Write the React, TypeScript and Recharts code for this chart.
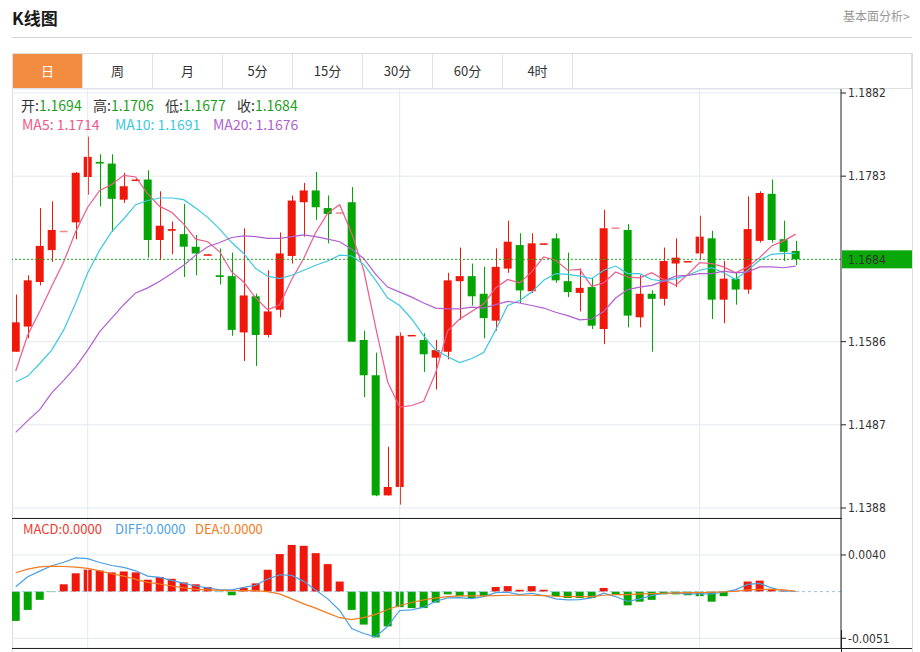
import {
  ComposedChart,
  Bar,
  Line,
  XAxis,
  YAxis,
  CartesianGrid,
  ReferenceLine,
  Cell,
} from 'recharts';

const RED = '#f0180a';
const GREEN = '#03a503';
const FLAT = '#f58a8a';
const GRID = '#e3e9f0';

const tabs = ['日', '周', '月', '5分', '15分', '30分', '60分', '4时'];

// daily candles
const open = [
  1.1574, 1.1604, 1.1657, 1.1695, 1.1718, 1.1728, 1.1782, 1.18, 1.1798, 1.1755,
  1.1778, 1.1779, 1.1707, 1.1718, 1.1714, 1.1699, 1.1689, 1.1665, 1.1664, 1.1597,
  1.164, 1.1594, 1.1624, 1.1688, 1.1752, 1.1766, 1.1745, 1.174, 1.1752, 1.1588,
  1.1546, 1.1403, 1.1413, 1.1593, 1.1588, 1.1567, 1.1574, 1.1658, 1.1664, 1.1643,
  1.1611, 1.1673, 1.1701, 1.1646, 1.1702, 1.1709, 1.1658, 1.1644, 1.1651, 1.1601,
  1.1722, 1.1719, 1.1615, 1.1643, 1.1637, 1.1679, 1.1681, 1.1691, 1.1709, 1.1636,
  1.1661, 1.1648, 1.1706, 1.1762, 1.1708, 1.1694,
];
const high = [
  1.1642, 1.1665, 1.1745, 1.1753, 1.1718, 1.1788, 1.183, 1.1809, 1.1809, 1.1787,
  1.178, 1.179, 1.1765, 1.1729, 1.175, 1.1713, 1.169, 1.1697, 1.1692, 1.1721,
  1.1643, 1.1671, 1.1716, 1.176, 1.1775, 1.1788, 1.176, 1.174, 1.177, 1.1599,
  1.1573, 1.1461, 1.1597, 1.1594, 1.1596, 1.1588, 1.1668, 1.1698, 1.1679, 1.1675,
  1.1697, 1.173, 1.1715, 1.1715, 1.1703, 1.1715, 1.1692, 1.1673, 1.1662, 1.1743,
  1.1722, 1.1726, 1.1665, 1.1647, 1.1698, 1.1709, 1.1682, 1.1736, 1.1718, 1.1682,
  1.1668, 1.1759, 1.1765, 1.1779, 1.173, 1.1706,
];
const low = [
  1.1574, 1.159, 1.1653, 1.1681, 1.1717, 1.1708, 1.1761, 1.1747, 1.1717, 1.1751,
  1.1777, 1.1686, 1.1683, 1.169, 1.1663, 1.1665, 1.1689, 1.1654, 1.1593, 1.1563,
  1.1557, 1.1591, 1.1615, 1.1679, 1.1711, 1.1731, 1.1703, 1.1739, 1.1586, 1.152,
  1.1402, 1.1403, 1.1392, 1.1593, 1.155, 1.1529, 1.1565, 1.1612, 1.1629, 1.159,
  1.1599, 1.1668, 1.1632, 1.1644, 1.1702, 1.1656, 1.1639, 1.1622, 1.1601, 1.1583,
  1.1721, 1.1603, 1.1603, 1.1574, 1.1629, 1.1651, 1.1681, 1.1683, 1.1613, 1.1608,
  1.163, 1.1643, 1.1704, 1.1704, 1.1682, 1.1677,
];
const close = [
  1.1609, 1.1659, 1.17, 1.1719, 1.1718, 1.1787, 1.1806, 1.1798, 1.1756, 1.1771,
  1.1779, 1.1707, 1.1724, 1.172, 1.1699, 1.1691, 1.169, 1.1663, 1.16, 1.1641,
  1.1594, 1.1622, 1.1691, 1.1754, 1.1766, 1.1746, 1.1738, 1.174, 1.1586, 1.1546,
  1.1403, 1.1413, 1.1593, 1.1594, 1.1571, 1.1576, 1.1659, 1.1664, 1.164, 1.1614,
  1.1675, 1.1705, 1.1647, 1.1703, 1.1703, 1.1659, 1.1645, 1.165, 1.1605, 1.1721,
  1.1722, 1.1617, 1.1643, 1.1637, 1.1682, 1.1686, 1.1682, 1.1711, 1.1636, 1.1661,
  1.1648, 1.172, 1.1763, 1.1707, 1.1693, 1.1684,
];

const ma5 = [
  1.1551, 1.1594, 1.1622, 1.1652, 1.1681, 1.1717, 1.1746, 1.1766, 1.1773, 1.1784,
  1.1782, 1.1762, 1.1747, 1.174, 1.1726, 1.1708, 1.1705, 1.1693, 1.1669, 1.1657,
  1.1638, 1.1624, 1.163, 1.166, 1.1685, 1.1716, 1.1739, 1.1749, 1.1715, 1.1671,
  1.1603, 1.1538, 1.1508, 1.151, 1.1515, 1.1549, 1.1599, 1.1613, 1.1622, 1.1631,
  1.165, 1.166, 1.1656, 1.1669, 1.1687, 1.1683, 1.1671, 1.1672, 1.1652, 1.1656,
  1.1669, 1.1663, 1.1662, 1.1668, 1.166, 1.1653, 1.1666, 1.168, 1.1679, 1.1675,
  1.1668, 1.1675, 1.1686, 1.17, 1.1706, 1.1714,
];
const ma10 = [
  1.1538, 1.1545, 1.156, 1.1576, 1.16, 1.1632, 1.1668, 1.1695, 1.1717, 1.1732,
  1.1749, 1.1754, 1.1757, 1.1757, 1.1755, 1.1745, 1.1734, 1.172, 1.1704, 1.1691,
  1.1673, 1.1664, 1.1661, 1.1665, 1.1671, 1.1677, 1.1682, 1.1689, 1.1688, 1.1678,
  1.1659, 1.1638, 1.1629, 1.1613, 1.1593, 1.1576, 1.1568, 1.1561, 1.1566, 1.1573,
  1.16, 1.1629, 1.1635, 1.1645, 1.1659, 1.1667, 1.1666, 1.1664, 1.1661, 1.1671,
  1.1676, 1.1667, 1.1667, 1.166, 1.1658, 1.1661, 1.1665, 1.1671, 1.1674, 1.1668,
  1.166, 1.1671, 1.1683, 1.169, 1.1691, 1.1691,
];
const ma20 = [
  1.1478, 1.1492, 1.1505, 1.1525, 1.154, 1.1556, 1.1576, 1.1598, 1.1614, 1.163,
  1.1644, 1.165, 1.1658, 1.1667, 1.1677, 1.1689, 1.1699, 1.1704, 1.171, 1.1712,
  1.1711, 1.1709, 1.1709, 1.1711, 1.1713, 1.1711, 1.1708, 1.1705, 1.1696, 1.1685,
  1.1666, 1.1651, 1.1645, 1.1639, 1.1632, 1.1626, 1.1625, 1.1625, 1.1627, 1.1626,
  1.163, 1.1634, 1.1632, 1.1629, 1.1626, 1.1621, 1.1617, 1.1612, 1.1613, 1.1622,
  1.1638, 1.1648, 1.1651, 1.1653, 1.1658, 1.1664, 1.1665, 1.1667, 1.1667, 1.167,
  1.1668, 1.1669, 1.1675, 1.1675, 1.1674, 1.1676,
];

const macd = [
  -0.0032, -0.002, -0.0009, -0.00005, 0.0008, 0.002, 0.0024, 0.0023, 0.0021, 0.0022,
  0.0021, 0.0013, 0.0016, 0.0014, 0.001, 0.0008, 0.0005, -0.00005, -0.0004, 0.0004,
  0.0009, 0.0024, 0.0041, 0.0051, 0.005, 0.0042, 0.003, 0.0011, -0.002, -0.0036,
  -0.005, -0.0038, -0.0017, -0.0018, -0.0018, -0.0012, -0.0003, -0.0005, -0.0007, -0.0005,
  0.0005, 0.0006, 0.0002, 0.0006, 0.0002, -0.0005, -0.0007, -0.0007, -0.0007, 0.0004,
  -0.0003, -0.0015, -0.0011, -0.0009, -0.0003, -0.0003, -0.0004, -0.0005, -0.0011, -0.0005,
  0.0001, 0.0011, 0.0012, 0.0003, 0.0001, 0.00002,
];
const diff = [
  0.00054, 0.00162, 0.00224, 0.00282, 0.00321, 0.00368, 0.00361, 0.00318, 0.00285, 0.00264,
  0.00227, 0.0017, 0.00155, 0.00123, 0.0009, 0.00061, 0.0004, 0.00018, 0.00018, 0.00047,
  0.00069, 0.00137, 0.00184, 0.00177, 0.00112, 0.00018, -0.00079, -0.00206, -0.00404, -0.00458,
  -0.00495, -0.00379, -0.00206, -0.00199, -0.0017, -0.00105, -0.00069, -0.00065, -0.00076, -0.00054,
  -0.00011, -0.00007, -0.00032, -0.00018, -0.00043, -0.00079, -0.0009, -0.00087, -0.00069, -0.00018,
  -0.00054, -0.00108, -0.00079, -0.00043, -0.00018, -0.00018, -0.00025, -0.00025, -0.00025, -0.00004,
  0.00022, 0.00079, 0.0009, 0.0004, 0.00007, 0.00004,
];
const dea = [
  0.00206, 0.00245, 0.00271, 0.00278, 0.00274, 0.00267, 0.00253, 0.00227, 0.00195, 0.0017,
  0.00134, 0.00101, 0.00083, 0.00061, 0.0004, 0.00025, 0.00018, 0.00014, 0.00011, 0.00011,
  0.00011, 0, -0.00025, -0.00079, -0.00134, -0.00181, -0.00235, -0.00285, -0.00307, -0.00285,
  -0.00249, -0.00195, -0.00152, -0.00119, -0.0009, -0.00069, -0.00054, -0.00047, -0.00047, -0.00047,
  -0.00043, -0.0004, -0.0004, -0.0004, -0.00043, -0.00051, -0.00054, -0.00054, -0.00054, -0.0004,
  -0.00032, -0.00032, -0.00025, -0.00022, -0.00018, -0.00014, -0.00011, -0.00011, -0.00007, -0.00004,
  0.00004, 0.00018, 0.00025, 0.00025, 0.00018, 0.00004,
];

// candles where a new month starts (vertical grid lines)
const monthStarts = [6, 32, 57];
const priceTicks = [1.1388, 1.1487, 1.1586, 1.1783, 1.1882];
const macdTicks = [-0.0051, 0.004];

const rows = open.map((o, i) => ({
  i,
  open: o,
  high: high[i],
  low: low[i],
  close: close[i],
  ma5: ma5[i],
  ma10: ma10[i],
  ma20: ma20[i],
  macd: macd[i],
  diff: diff[i],
  dea: dea[i],
}));

const last = rows.length - 1;
const X_DOMAIN = [-0.31, 68.78];
const tickStyle = { fontSize: 12, fill: '#333', fontFamily: "'DejaVu Sans Condensed', 'DejaVu Sans', sans-serif" };

function Candle(props: any) {
  const { x, y, width, height, payload } = props;
  if (x == null || payload == null) return null;
  const { open, close, high, low } = payload;
  const color = open === close && high - low < 0.00015 ? FLAT : close >= open ? RED : GREEN;
  const k = high > low ? height / (high - low) : 0;
  const yO = y + (high - open) * k;
  const yC = y + (high - close) * k;
  const top = Math.min(yO, yC);
  const h = Math.max(Math.abs(yO - yC), 1.5);
  const cx = Math.round(x + width / 2) + 0.5;
  return (
    <g>
      <line x1={cx} x2={cx} y1={y} y2={y + height} stroke={color} strokeWidth={1} />
      <rect x={x} y={top} width={width} height={h} fill={color} />
    </g>
  );
}

function PriceTag(props: any) {
  const vb = props.viewBox || {};
  const x0 = vb.x + vb.width;
  const y0 = vb.y;
  return (
    <g>
      <rect x={x0 + 1} y={y0 - 9} width={70} height={18} fill="#08a808" />
      <text x={x0 + 7} y={y0 + 4.5} fill="#fff" style={tickStyle as any} fontSize={12}>
        {close[last].toFixed(4)}
      </text>
    </g>
  );
}

const abs = (left: number, top: number, extra: any = {}) => ({
  position: 'absolute' as const,
  left,
  top,
  ...extra,
});

export default function App() {
  return (
    <div
      style={{
        position: 'absolute',
        left: 0,
        top: 0,
        width: 920,
        height: 652,
        background: '#fff',
        overflow: 'hidden',
        fontFamily: "'Noto Sans CJK SC', 'Noto Sans', sans-serif",
      }}
    >
      <div style={abs(12, 5, { fontSize: 17, fontWeight: 700, color: '#1a1a1a' })}>K线图</div>
      <div style={abs(843, 7, { fontSize: 12, color: '#999' })}>基本面分析&gt;</div>
      <div style={abs(12, 37, { width: 900, height: 1, background: '#d6d6d6' })} />

      {/* period tabs */}
      <div
        style={abs(12, 53, {
          width: 900,
          height: 36,
          border: '1px solid #dedede',
          boxSizing: 'border-box',
          display: 'flex',
        })}
      >
        {tabs.map((t, k) => (
          <div
            key={t}
            style={{
              width: 70,
              height: 34,
              lineHeight: '34px',
              textAlign: 'center',
              fontSize: 13,
              borderRight: '1px solid #e2e2e2',
              boxSizing: 'border-box',
              background: k === 0 ? '#f28c40' : '#fff',
              color: k === 0 ? '#fff' : '#333',
            }}
          >
            {t}
          </div>
        ))}
      </div>

      {/* frame */}
      <div style={abs(12, 89, { width: 1, height: 563, background: '#dcdcdc' })} />
      <div style={abs(912, 53, { width: 1, height: 599, background: '#dcdcdc' })} />

      <div style={abs(12, 79)}>
        <ComposedChart width={900} height={439} data={rows} margin={{ top: 10, right: 0, bottom: 0, left: 0 }}>
          <CartesianGrid vertical={false} stroke={GRID} />
          <XAxis type="number" dataKey="i" domain={X_DOMAIN} hide allowDataOverflow />
          <YAxis
            orientation="right"
            width={71}
            domain={[1.137609, 1.188676]}
            allowDataOverflow
            ticks={priceTicks}
            interval={0}
            tickFormatter={(v: number) => v.toFixed(4)}
            tick={tickStyle}
            tickSize={5}
            axisLine={{ stroke: '#222' }}
            tickLine={{ stroke: '#222' }}
          />
          {monthStarts.map((m) => (
            <ReferenceLine key={m} x={m} stroke={GRID} />
          ))}
          <Bar
            dataKey={(d: any) => [d.low, d.high]}
            barSize={8}
            shape={<Candle />}
            isAnimationActive={false}
          />
          <Line dataKey="ma5" stroke="#ee5a8a" dot={false} strokeWidth={1.2} isAnimationActive={false} />
          <Line dataKey="ma10" stroke="#3cc8e0" dot={false} strokeWidth={1.2} isAnimationActive={false} />
          <Line dataKey="ma20" stroke="#b15fd0" dot={false} strokeWidth={1.2} isAnimationActive={false} />
          <ReferenceLine
            y={close[last]}
            stroke="#1aaa1a"
            strokeDasharray="2 2"
            label={(p: any) => <PriceTag {...p} />}
          />
        </ComposedChart>
      </div>

      <div style={abs(12, 518)}>
        <ComposedChart width={900} height={130} data={rows} margin={{ top: 0, right: 0, bottom: 0, left: 0 }}>
          <CartesianGrid vertical={false} stroke={GRID} />
          <XAxis type="number" dataKey="i" domain={X_DOMAIN} hide allowDataOverflow />
          <YAxis
            orientation="right"
            width={71}
            domain={[-0.00616, 0.00804]}
            allowDataOverflow
            ticks={macdTicks}
            interval={0}
            tickFormatter={(v: number) => v.toFixed(4)}
            tick={tickStyle}
            tickSize={5}
            axisLine={{ stroke: '#222' }}
            tickLine={{ stroke: '#222' }}
          />
          {monthStarts.map((m) => (
            <ReferenceLine key={m} x={m} stroke={GRID} />
          ))}
          <ReferenceLine y={0} stroke="#9cc3e0" strokeDasharray="3 3" />
          <Bar dataKey="macd" barSize={8} isAnimationActive={false}>
            {rows.map((r) => (
              <Cell key={r.i} fill={r.macd >= 0 ? RED : GREEN} />
            ))}
          </Bar>
          <Line dataKey="diff" stroke="#4a9fe6" dot={false} strokeWidth={1.2} isAnimationActive={false} />
          <Line dataKey="dea" stroke="#f47a20" dot={false} strokeWidth={1.2} isAnimationActive={false} />
        </ComposedChart>
      </div>

      {/* panel separators */}
      <div style={abs(12, 518, { width: 830, height: 1, background: '#222' })} />
      <div style={abs(12, 648, { width: 900, height: 1, background: '#222' })} />
      <div style={abs(841, 630, { width: 1, height: 22, background: '#222' })} />

      {/* price legend */}
      <div style={abs(22, 96, { fontSize: 14, lineHeight: '18px', whiteSpace: 'nowrap' })}>
        {[
          ['开', open[last]],
          ['高', high[last]],
          ['低', low[last]],
          ['收', close[last]],
        ].map(([k, v], n) => (
          <span key={k as string} style={{ position: 'absolute', left: n * 72 - 1, top: 0 }}>
            <span style={{ color: '#333' }}>{k}:</span>
            <span style={{ color: '#1e9e1e' }}>{(v as number).toFixed(4)}</span>
          </span>
        ))}
      </div>
      <div style={abs(22, 115, { fontSize: 14, lineHeight: '18px', color: '#ee5a8a', whiteSpace: 'nowrap' })}>
        MA5: {ma5[last].toFixed(4)}
      </div>
      <div style={abs(115, 115, { fontSize: 14, lineHeight: '18px', color: '#3cc8e0', whiteSpace: 'nowrap' })}>
        MA10: {ma10[last].toFixed(4)}
      </div>
      <div style={abs(213, 115, { fontSize: 14, lineHeight: '18px', color: '#b15fd0', whiteSpace: 'nowrap' })}>
        MA20: {ma20[last].toFixed(4)}
      </div>

      {/* macd legend */}
      <div style={abs(23, 521, { fontSize: 13, lineHeight: '16px', color: '#ee3a2e', whiteSpace: 'nowrap' })}>
        MACD:0.0000
      </div>
      <div style={abs(115, 521, { fontSize: 13, lineHeight: '16px', color: '#4a9fe6', whiteSpace: 'nowrap' })}>
        DIFF:0.0000
      </div>
      <div style={abs(195, 521, { fontSize: 13, lineHeight: '16px', color: '#f47a20', whiteSpace: 'nowrap' })}>
        DEA:0.0000
      </div>
    </div>
  );
}
